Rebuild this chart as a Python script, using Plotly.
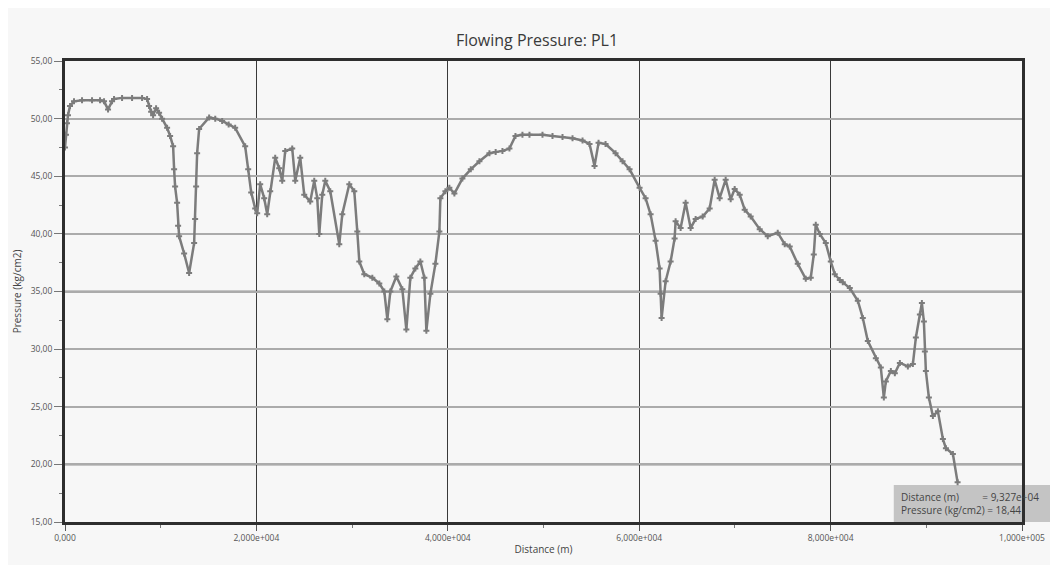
import plotly.graph_objects as go

# ---- data ----
distance_m = [
    0, 105, 209, 314, 523, 941, 1778, 2824, 3660, 4079, 4498, 4916, 5125, 5962, 7008, 8054,
    8577, 8786, 9000, 9205, 9518, 9832, 10146, 10669, 10983, 11297, 11401, 11506, 11715, 11820,
    11924, 12447, 12970, 13493, 13598, 13700, 13807, 14016, 15062, 15700, 16422, 17100, 17782,
    18828, 19142, 19455, 19874, 20083, 20397, 20815, 21129, 21443, 21966, 22384, 22698, 23012,
    23744, 24058, 24581, 24999, 25627, 26045, 26359, 26568, 26882, 27196, 27719, 28660, 28974,
    29706, 30229, 30543, 30752, 31275, 32112, 32844, 33367, 33681, 33995, 34623, 35250, 35669,
    36087, 36610, 37133, 37551, 37761, 38179, 38702, 39120, 39225, 39748, 40166, 40689, 41526,
    42400, 43304, 44350, 45000, 45710, 46442, 47070, 47800, 48534, 49894, 50940, 51986, 53032,
    54078, 54810, 55333, 55752, 56484, 57530, 58260, 58994, 60040, 60668, 61191, 61714, 62132,
    62237, 62342, 62760, 63283, 63701, 63806, 64329, 64852, 65375, 65898, 66630, 67362, 67885,
    68408, 69036, 69559, 69977, 70500, 71023, 71651, 72592, 73429, 74475, 75207, 75730, 76567,
    77404, 77927, 78241, 78450, 78868, 79496, 80019, 80437, 80960, 81274, 82006, 82843, 83366,
    83889, 84726, 85249, 85563, 85772, 86295, 86713, 87236, 88073, 88596, 88910, 89328, 89538,
    89747, 89851, 89956, 90270, 90688, 91211, 91734, 92048, 92780, 93270,
]
pressure_kgcm2 = [
    47.5, 48.6, 49.6, 50.3, 51.1, 51.5, 51.6, 51.6, 51.6, 51.5, 50.8, 51.5, 51.7, 51.8, 51.8, 51.8,
    51.7, 51.1, 50.6, 50.3, 50.9, 50.5, 50.0, 49.2, 48.5, 47.6, 45.6, 44.1, 42.7, 40.7,
    39.8, 38.3, 36.6, 39.2, 41.3, 44.1, 47.0, 49.1, 50.1, 50.0, 49.8, 49.5, 49.2,
    47.6, 45.6, 43.6, 42.2, 41.8, 44.3, 43.1, 41.7, 43.7, 46.6, 45.7, 44.6, 47.2,
    47.4, 44.6, 46.6, 43.4, 42.8, 44.6, 43.1, 40.0, 43.4, 44.6, 43.7, 39.1, 41.7,
    44.3, 43.7, 40.2, 37.6, 36.5, 36.2, 35.7, 35.0, 32.6, 35.0, 36.3, 35.2, 31.7,
    36.2, 37.0, 37.6, 36.2, 31.6, 34.8, 37.4, 40.2, 43.1, 43.7, 44.0, 43.5, 44.8,
    45.6, 46.3, 47.0, 47.1, 47.2, 47.4, 48.5, 48.6, 48.6, 48.6, 48.5, 48.4, 48.3,
    48.1, 47.8, 45.9, 47.9, 47.8, 47.0, 46.3, 45.6, 44.0, 43.1, 41.7, 39.4, 37.0,
    34.8, 32.7, 35.9, 37.6, 39.6, 41.1, 40.5, 42.7, 40.5, 41.3, 41.5, 42.2, 44.7,
    43.1, 44.7, 43.0, 43.9, 43.4, 42.1, 41.5, 40.4, 39.8, 40.1, 39.1, 38.9, 37.4,
    36.1, 36.2, 38.2, 40.8, 40.0, 39.2, 37.6, 36.5, 36.0, 35.8, 35.3, 34.2, 32.7,
    30.7, 29.2, 28.4, 25.8, 27.2, 28.1, 27.9, 28.8, 28.5, 28.7, 31.0, 33.0, 34.0,
    32.4, 29.8, 28.1, 25.8, 24.2, 24.6, 22.2, 21.4, 20.9, 18.44,
]

x_tickvals = [0, 20000, 40000, 60000, 80000, 100000]
x_ticktext = ["0,000", "2,000e+004", "4,000e+004", "6,000e+004", "8,000e+004", "1,000e+005"]
y_tickvals = [15, 20, 25, 30, 35, 40, 45, 50, 55]
dark_grid_y = [20, 35, 40]

title_text = "Flowing Pressure: PL1"
x_title = "Distance (m)"
y_title = "Pressure (kg/cm2)"
readout_text = "Distance (m)         = 9,327e+04<br>Pressure (kg/cm2) = 18,44"

GRAY = "#7c7c7c"

fig = go.Figure()
fig.add_trace(go.Scatter(
    x=distance_m, y=pressure_kgcm2, mode="lines+markers",
    line=dict(color=GRAY, width=2.5),
    marker=dict(symbol="cross", size=5, color=GRAY),
    showlegend=False, hoverinfo="skip",
))

shapes = []
for yv in dark_grid_y:
    shapes.append(dict(type="line", xref="paper", yref="y", x0=0, x1=1, y0=yv, y1=yv,
                       line=dict(color="#333333", width=1.6), layer="between"))
# readout box background
shapes.append(dict(type="rect", xref="paper", yref="paper", x0=0.866, x1=1.05,
                   y0=0.0, y1=0.080, fillcolor="#c4c4c4", line=dict(width=0), layer="below"))

fig.update_layout(
    width=1058, height=565,
    margin=dict(l=57, r=44, t=53, b=51, autoexpand=False),
    paper_bgcolor="#f7f7f7", plot_bgcolor="#f7f7f7",
    separators=",.",
    font=dict(family="Open Sans, Liberation Sans, sans-serif", color="#555"),
    title=dict(text=title_text, x=0.5, xanchor="center", y=0.942, yanchor="middle",
               font=dict(size=16, color="#3a3a3a", family="Open Sans, sans-serif")),
    shapes=shapes,
    annotations=[dict(text=readout_text, xref="paper", yref="paper", x=0.871, y=0.040,
                      xanchor="left", yanchor="middle", showarrow=False, align="left",
                      font=dict(size=10, color="#444", family="Open Sans, sans-serif"))],
)

fig.update_xaxes(
    range=[0, 100000], tickvals=x_tickvals, ticktext=x_ticktext, automargin=False,
    showgrid=True, gridcolor="#3a3a3a", gridwidth=1.2,
    showline=True, linecolor="#2e2e2e", linewidth=3, mirror=True,
    ticks="outside", ticklen=6, tickcolor="#555", tickwidth=1,
    minor=dict(ticks="outside", ticklen=3, dtick=10000, tick0=0, tickcolor="#777", showgrid=False),
    tickfont=dict(size=8.5, color="#555"),
    title=dict(text=x_title, font=dict(size=10, color="#444"), standoff=4),
    zeroline=False,
)
fig.update_yaxes(
    range=[15, 55], tickvals=y_tickvals, tickformat=".2f", automargin=False,
    showgrid=True, gridcolor="#ababab", gridwidth=1.5,
    showline=True, linecolor="#2e2e2e", linewidth=3, mirror=True,
    ticks="outside", ticklen=8, tickcolor="#777", tickwidth=1,
    minor=dict(ticks="outside", ticklen=3, dtick=2.5, tick0=15, tickcolor="#777", showgrid=False),
    tickfont=dict(size=8.5, color="#555"),
    title=dict(text=y_title, font=dict(size=10, color="#444"), standoff=8),
    zeroline=False,
)

fig.write_html("out.html")
